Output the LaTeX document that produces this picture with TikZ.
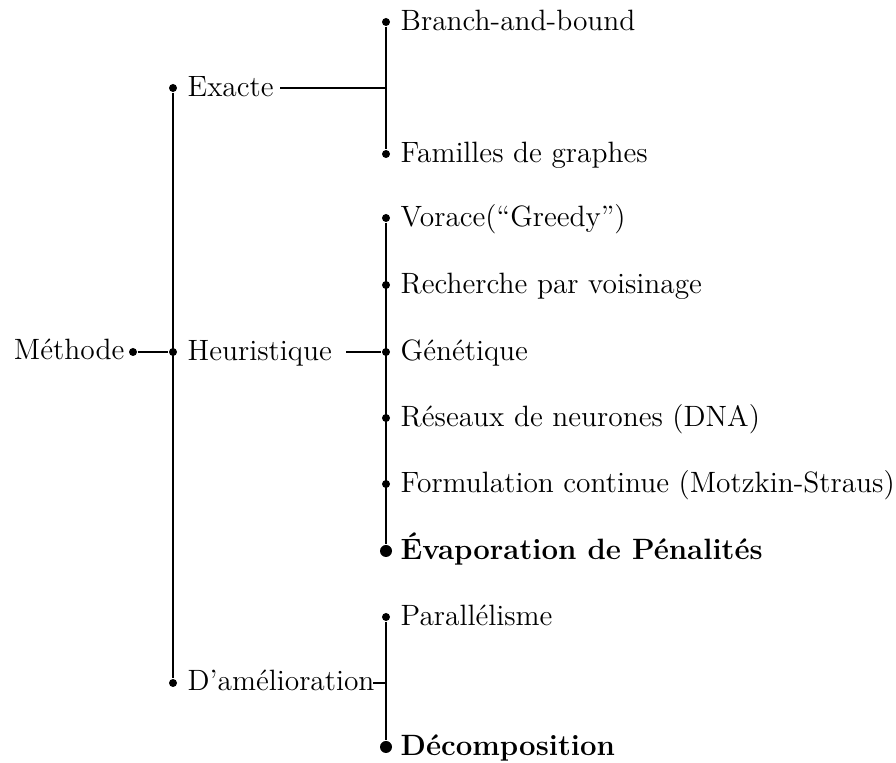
\documentclass[tikz,border=0pt]{standalone}
\usepackage{fontspec}
\begin{document}
\begin{tikzpicture}[x=0.5pt,y=-0.5pt,
  font=\fontsize{14.7}{17}\selectfont,
  line width=0.7pt,
  sdot/.style={circle,fill,inner sep=0pt,minimum size=4pt},
  bdot/.style={circle,fill,inner sep=0pt,minimum size=6pt},
  lab/.style={anchor=base west,inner sep=0pt},
  bl/.style={lab,font=\fontsize{14.7}{17}\selectfont\bfseries}]
\useasboundingbox (0,0) rectangle (896,763);
% level 0
\node[anchor=base east,inner sep=0pt] (meth) at (125,360) {Méthode};
\node[sdot] (dm) at (133,352) {};
% level 1
\node[sdot] (dex) at (173,88) {};
\node[sdot] (dhe) at (173,352) {};
\node[sdot] (dam) at (173,683) {};
\node[lab] (ex) at (187,97) {Exacte};
\node[lab] (he) at (187,361) {Heuristique};
\node[lab] (am) at (187,691) {D'amélioration};
% level 2 dots
\node[sdot] (d1) at (386,22) {};
\node[sdot] (d2) at (386,154) {};
\node[sdot] (d3) at (386,218) {};
\node[sdot] (d4) at (386,285) {};
\node[sdot] (d5) at (386,352) {};
\node[sdot] (d6) at (386,418) {};
\node[sdot] (d7) at (386,484) {};
\node[bdot] (d8) at (386,551) {};
\node[sdot] (d9) at (386,617) {};
\node[bdot] (d10) at (386,747) {};
% level 2 labels
\node[lab] (t1) at (400,31) {Branch-and-bound};
\node[lab] (t2) at (400,163) {Familles de graphes};
\node[lab] (t3) at (400,227) {Vorace(``Greedy'')};
\node[lab] (t4) at (400,294) {Recherche par voisinage};
\node[lab] (t5) at (400,361) {Génétique};
\node[lab] (t6) at (400,427) {Réseaux de neurones (DNA)};
\node[lab] (t7) at (400,493) {Formulation continue (Motzkin-Straus)};
\node[bl] (t8) at (400,560) {Évaporation de Pénalités};
\node[lab] (t9) at (400,626) {Parallélisme};
\node[bl] (t10) at (400,756) {Décomposition};
% junction coordinates
\coordinate (jex) at (386,88);
\coordinate (sex) at (280,88);
\coordinate (she) at (346,352);
\coordinate (jam) at (386,683);
\coordinate (sam) at (373,683);
% connectors
\draw (dm) -- (dhe);
\draw (dex) -- (dam);
\draw (d1) -- (d2);
\draw (sex) -- (jex);
\draw (d3) -- (d8);
\draw (she) -- (d5);
\draw (d9) -- (d10);
\draw (sam) -- (jam);
\end{tikzpicture}
\end{document}
